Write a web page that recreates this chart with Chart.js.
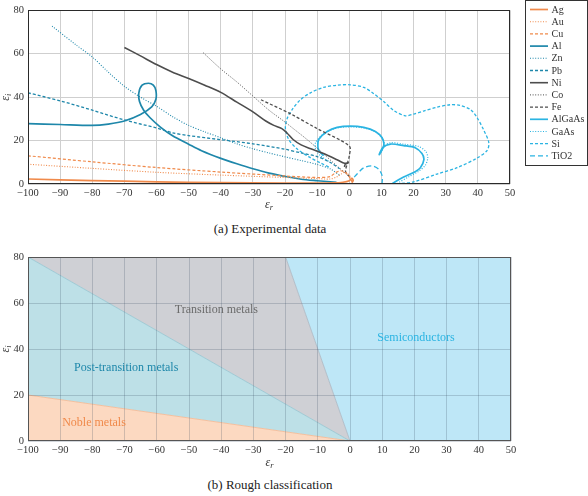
<!DOCTYPE html>
<html>
<head>
<meta charset="utf-8">
<script src="https://cdn.jsdelivr.net/npm/chart.js@4.4.0/dist/chart.umd.min.js"></script>
<style>
  html, body { margin:0; padding:0; background:#fff; }
  #wrap { position:relative; width:588px; height:496px; overflow:hidden; }
  #c1 { position:absolute; left:0; top:0; }
  #c2 { position:absolute; left:0; top:245px; }
  .cap { position:absolute; left:0; width:540px; text-align:center; font-family:'Liberation Serif', serif; font-size:13px; color:#222; }
</style>
</head>
<body>
<div id="wrap">
  <canvas id="c1" width="588" height="216"></canvas>
  <div class="cap" style="top:221px;">(a) Experimental data</div>
  <canvas id="c2" width="588" height="230"></canvas>
  <div class="cap" style="top:477px;">(b) Rough classification</div>
</div>
<script>
// ---------------- data (ε_r, ε_i pairs) ----------------
const materials = ['Ag','Au','Cu','Al','Zn','Pb','Ni','Co','Fe','AlGaAs','GaAs','Si','TiO2'];
const ag = [[-100,2.3],[-80,1.6],[-60,1.0],[-40,0.6],[-20,0.4],[-10,0.4],[-5,0.5],[-2,0.8],[0,1.5],[0.8,2.6],[1.2,1.6],[0.8,0.6]];
const au = [[-100,9.1],[-80,7.2],[-60,5.4],[-40,4.1],[-20,3.0],[-10,2.5],[-6,2.3],[-4,3.2],[-2.5,4.6],[-1.5,5.4],[-0.5,4.8],[0.5,3],[1,1.5]];
const cu = [[-100,13],[-80,10.2],[-60,7.6],[-40,5.5],[-20,3.7],[-10,3.0],[-6,3.4],[-4.5,5.0],[-2.8,6.1],[-1.2,5.3],[0.3,2.6],[0.9,0.9]];
const al = [[-100,27.8],[-90,27.4],[-80,27],[-75,27.6],[-70,29],[-65,32],[-61.5,35.5],[-60.2,39],[-60.2,43],[-61,45.5],[-62.5,46.4],[-64.5,45.5],[-65.5,42],[-65.3,38],[-64,34],[-62,30.5],[-58.8,26.2],[-55,22.2],[-50,18.3],[-46,15.3],[-40,11.8],[-35,9.3],[-30,7],[-25,5],[-20,3.5],[-15,2.2],[-10,1.5],[-4,0.8]];
const zn = [[-92.5,72.7],[-85,64],[-80,58.5],[-75,51.5],[-70,45],[-65,40],[-60,35.8],[-55,31],[-50,27],[-45,24],[-40,21.3],[-35,18.5],[-30,16.2],[-25,14.3],[-20,12.5],[-15,10.8],[-10,9],[-6,7],[-3,4]];
const pb = [[-100,42],[-90,38.3],[-80,34],[-70,29.5],[-60,25.8],[-55,23.6],[-50,22.3],[-40,20.4],[-30,18.5],[-20,16],[-15,14.3],[-10,12.6],[-6,10],[-3,7]];
const ni = [[-70,62.9],[-65,59],[-60,55],[-55,51.5],[-50,48.6],[-45,45.5],[-40,42.2],[-35,37.7],[-30,33.2],[-26,29],[-23.5,27],[-21,25.5],[-19.4,23.5],[-17.5,20.5],[-15,18],[-12,16.2],[-8,14],[-4,11.3],[-2,9.8],[-1,9.5],[-0.3,9.8],[-1.3,9],[-1.5,7.8]];
const co = [[-45.5,60.5],[-40,53],[-35,47],[-30,40.5],[-25,34],[-20,28.5],[-17,25],[-14,21.5],[-10,16.5],[-7,12.5],[-4,8.5],[-2,6],[-1,4.5]];
const fe = [[-27.5,38.8],[-18.4,32.4],[-10,25.5],[0,17.5],[0,13],[-0.6,9.5],[-1.2,6],[-0.7,4.5],[0,3.5]];
const algaas = [[13.3,0],[13.8,0.6],[16.9,3.2],[20,5.3],[22.1,7.5],[23.2,11.2],[22.6,14],[20.5,16.7],[16.9,17.7],[12.8,18.4],[10.4,16.8],[9.3,13.5],[10.7,17.7],[10.2,21.3],[8.1,24.2],[4.5,26.1],[0.3,26.7],[-3.8,26.1],[-6.9,24.2],[-9.5,20.6],[-9.8,17.5],[-9.5,15.5],[-8,13]];
const gaas = [[15,0],[15.5,0.8],[18.5,3.3],[21.5,5.8],[23.6,8.5],[24.4,12],[23.8,15],[21.5,17.3],[17,18.3],[12.8,19],[10.6,17.2],[9.5,13.7],[10.9,18],[10,21.5],[7.5,24.5],[3.5,26],[-1,26.3],[-5,25.3],[-8.5,22.5],[-10.5,19],[-10.5,16],[-9,13],[-6,10]];
const si = [[14.8,0],[20,1],[27.3,4.6],[33.5,7.5],[39.7,11.9],[42.9,15.5],[43.4,19.1],[41.8,24.9],[39.7,30.7],[37.7,34.3],[34.5,36.2],[31.4,36.5],[27.3,35.4],[23.1,33.6],[20,32.2],[17.4,31.4],[13.8,33.9],[10.7,38],[7.6,41.6],[4.5,44.5],[0.3,45.7],[-3.8,45.5],[-8,44.5],[-12.1,42],[-15.3,38.7],[-17.8,34.3],[-19.4,30],[-19.9,25.7],[-18.9,20.6],[-16.3,16.2],[-12.7,12.6],[-9,9.7],[-5.9,7.5]];
const tio2 = [[10.2,0],[10.2,3.9],[9.1,6.8],[7.1,8.3],[4.5,7.5],[2.4,4.6],[1.4,3]];

// classification boundaries (b)
const classX = [-100, -20, 0, 50];
const nobleTop = [20, 4, 0, 0];
const postTop = [80, 16, 0, 0];
const transTop = [80, 80, 0, 0];
const semiTop = [80, 80, 80, 80];
const classNames = ['Noble metals','Post-transition metals','Transition metals','Semiconductors'];
const classLabelPos = [[-79.5,7.8],[-69.5,31.7],[-41.5,57],[20.5,44.8]];

// x / y ticks
const xTicks = [-100,-90,-80,-70,-60,-50,-40,-30,-20,-10,0,10,20,30,40,50];
const yTicks = [0,20,40,60,80];

// ---------------- styling ----------------
const ORANGE = '#f08a4b', TEAL = '#1e87aa', GRAY = '#4d4d4d', LBLUE = '#2bb4e2';
const SERIF = "'Liberation Serif', 'DejaVu Serif', serif";
const seriesData = [ag,au,cu,al,zn,pb,ni,co,fe,algaas,gaas,si,tio2];
const colors = [ORANGE,ORANGE,ORANGE,TEAL,TEAL,TEAL,GRAY,GRAY,GRAY,LBLUE,LBLUE,LBLUE,LBLUE];
const SOLID=[], DOT=[1,1.6], DASH=[3,2], LDASH=[5,3];
const dashes = [SOLID,DOT,DASH,SOLID,DOT,DASH,SOLID,DOT,DASH,SOLID,DOT,DASH,LDASH];
const widths = [1.7,1.1,1.2,1.7,1.1,1.3,1.6,1.0,1.3,1.7,1.2,1.3,1.3];

const toXY = arr => arr.map(p => ({x:p[0], y:p[1]}));
const minus = v => v < 0 ? '\u2212' + (-v) : '' + v;

function axes(gridColor, gz, xH) {
  return {
    x: { type:'linear', min:-100, max:50,
      afterBuildTicks: s => { s.ticks = xTicks.map(v => ({value:v})); },
      afterFit: s => { s.height = xH; },
      ticks: { callback: minus, font:{family:SERIF, size:10.5}, color:'#333', padding:3, maxRotation:0, autoSkip:false },
      grid: { color:gridColor, lineWidth:1, drawTicks:false, z:gz },
      border: { display:false } },
    y: { type:'linear', min:0, max:80,
      afterBuildTicks: s => { s.ticks = yTicks.map(v => ({value:v})); },
      afterFit: s => { s.width = 28; },
      ticks: { callback: minus, font:{family:SERIF, size:10.5}, color:'#333', padding:4 },
      grid: { color:gridColor, lineWidth:1, drawTicks:false, z:gz },
      border: { display:false } }
  };
}

function drawEps(ctx, x, y, sub, rot) {
  ctx.save();
  ctx.translate(x, y);
  if (rot) ctx.rotate(-Math.PI/2);
  ctx.fillStyle = '#333';
  ctx.textBaseline = 'middle';
  ctx.font = "italic 12px " + SERIF;
  const w1 = ctx.measureText('\u03b5').width;
  ctx.font = "italic 8.5px " + SERIF;
  const w2 = ctx.measureText(sub).width;
  const x0 = -(w1 + w2) / 2;
  ctx.font = "italic 12px " + SERIF;
  ctx.textAlign = 'left';
  ctx.fillText('\u03b5', x0, 0);
  ctx.font = "italic 8.5px " + SERIF;
  ctx.fillText(sub, x0 + w1, 3);
  ctx.restore();
}

const framePlugin = {
  id:'frame',
  afterDraw(chart, args, opts) {
    const a = chart.chartArea, ctx = chart.ctx;
    ctx.save();
    ctx.strokeStyle = opts.color || '#333';
    ctx.lineWidth = 1;
    ctx.strokeRect(Math.round(a.left)+0.5, Math.round(a.top)+0.5, Math.round(a.right-a.left)-1, Math.round(a.bottom-a.top)-1);
    drawEps(ctx, (a.left + a.right)/2, a.bottom + (opts.titleDy || 22), 'r', false);
    drawEps(ctx, 6, (a.top + a.bottom)/2, 'i', true);
    ctx.restore();
  }
};

const legendPlugin = {
  id:'boxLegend',
  afterDraw(chart) {
    const ctx = chart.ctx;
    ctx.save();
    const bx = 525.5, by = 0.5, bw = 62, bh = 165;
    ctx.fillStyle = '#fff';
    ctx.fillRect(bx, by, bw, bh);
    ctx.strokeStyle = '#333'; ctx.lineWidth = 1;
    ctx.strokeRect(bx, by, bw, bh);
    chart.data.datasets.forEach((ds, i) => {
      const y = 9.5 + i * 12.2;
      ctx.save();
      ctx.strokeStyle = ds.borderColor;
      ctx.lineWidth = ds.borderWidth;
      ctx.setLineDash(ds.borderDash);
      ctx.beginPath(); ctx.moveTo(530, y); ctx.lineTo(548, y); ctx.stroke();
      ctx.restore();
      ctx.fillStyle = '#333';
      ctx.font = "10px " + SERIF;
      ctx.textBaseline = 'middle'; ctx.textAlign = 'left';
      ctx.fillText(ds.label, 551.5, y + 0.5);
    });
    ctx.restore();
  }
};

const labelPlugin = {
  id:'regionLabels',
  afterDraw(chart) {
    const ctx = chart.ctx, xs = chart.scales.x, ys = chart.scales.y;
    const cols = ['#f08a4b', '#1e87aa', '#6b6b6b', '#2bb4e2'];
    ctx.save();
    ctx.font = "12px " + SERIF;
    ctx.textAlign = 'center'; ctx.textBaseline = 'middle';
    classNames.forEach((n, i) => {
      ctx.fillStyle = cols[i];
      ctx.fillText(n, xs.getPixelForValue(classLabelPos[i][0]), ys.getPixelForValue(classLabelPos[i][1]));
    });
    ctx.restore();
  }
};
const mk = (arr) => classX.map((x, i) => ({x, y: arr[i]}));

function build() {
  // ---------------- chart (a) ----------------
  new Chart(document.getElementById('c1'), {
    type:'line',
    data: { datasets: materials.map((m, i) => ({
      label:m, data: toXY(seriesData[i]), borderColor: colors[i], backgroundColor: colors[i],
      borderDash: dashes[i], borderWidth: widths[i], fill:false, tension:0.3, pointRadius:0
    })) },
    options: {
      responsive:false, animation:false, devicePixelRatio:1,
      layout: { padding: { left:0, right:78, top:1, bottom:0 } },
      plugins: { legend:{display:false}, tooltip:{enabled:false}, frame:{color:'#2a2a2a', titleDy:21} },
      scales: axes('#cfcfcf', -1, 32)
    },
    plugins: [framePlugin, legendPlugin]
  });

  // ---------------- chart (b) ----------------
  new Chart(document.getElementById('c2'), {
    type:'line',
    data: { datasets: [
      { label:'noble', data: mk(nobleTop), fill:'origin', backgroundColor:'#fcd9c1', borderColor:'#f3b892', borderWidth:0.8, pointRadius:0, tension:0 },
      { label:'post', data: mk(postTop), fill:'-1', backgroundColor:'#bde0e7', borderColor:'#93c3cf', borderWidth:0.8, pointRadius:0, tension:0 },
      { label:'trans', data: mk(transTop), fill:'-1', backgroundColor:'#cfd0d5', borderColor:'#a9b7c4', borderWidth:0.8, pointRadius:0, tension:0 },
      { label:'semi', data: mk(semiTop), fill:'-1', backgroundColor:'#bee7f7', borderColor:'#bee7f7', borderWidth:0, pointRadius:0, tension:0 }
    ] },
    options: {
      responsive:false, animation:false, devicePixelRatio:1,
      layout: { padding: { left:0, right:77, top:12, bottom:0 } },
      plugins: { legend:{display:false}, tooltip:{enabled:false}, frame:{color:'#555', titleDy:22} },
      scales: axes('rgba(50,70,90,0.22)', 1, 34)
    },
    plugins: [labelPlugin, framePlugin]
  });
}

Promise.all([
  document.fonts.load('10px "Liberation Serif"'),
  document.fonts.load('italic 12px "Liberation Serif"')
]).then(build, build);
</script>
</body>
</html>
